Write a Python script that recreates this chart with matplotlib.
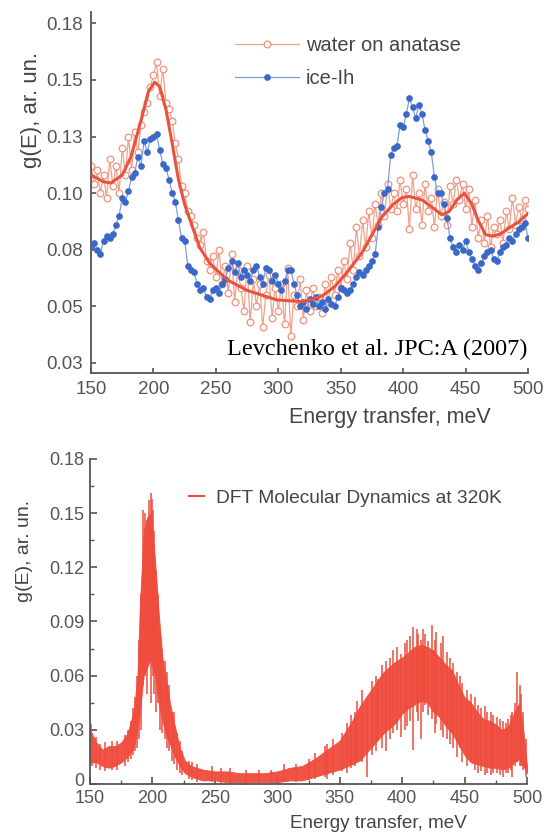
import numpy as np
import matplotlib
matplotlib.use('Agg')
import matplotlib.pyplot as plt
import matplotlib.transforms as mtransforms

plt.rcParams['font.family'] = ['Liberation Sans', 'DejaVu Sans']

# ---------------- datos panel superior (Levchenko et al.) ----------------
e_exp = np.arange(150, 500.1, 2.5)

g_anatase = [
    0.112, 0.104, 0.110, 0.100, 0.108, 0.098, 0.115, 0.103, 0.112, 0.100,
    0.120, 0.108, 0.125, 0.110, 0.127, 0.118, 0.130, 0.136, 0.140, 0.147,
    0.152, 0.158, 0.143, 0.155, 0.140, 0.137, 0.132, 0.122, 0.115, 0.103,
    0.100, 0.092, 0.090, 0.086, 0.080, 0.077, 0.083, 0.070, 0.066, 0.072,
    0.063, 0.075, 0.060, 0.068, 0.056, 0.073, 0.052, 0.066, 0.058, 0.048,
    0.068, 0.043, 0.062, 0.050, 0.060, 0.041, 0.055, 0.064, 0.045, 0.058,
    0.048, 0.060, 0.042, 0.067, 0.037, 0.055, 0.050, 0.062, 0.044, 0.057,
    0.048, 0.058, 0.050, 0.054, 0.047, 0.060, 0.052, 0.063, 0.055, 0.066,
    0.058, 0.070, 0.062, 0.078, 0.066, 0.085, 0.072, 0.088, 0.076, 0.092,
    0.080, 0.095, 0.086, 0.100, 0.090, 0.104, 0.093, 0.100, 0.092, 0.106,
    0.095, 0.102, 0.084, 0.108, 0.093, 0.100, 0.086, 0.104, 0.092, 0.098,
    0.085, 0.102, 0.090, 0.096, 0.086, 0.103, 0.095, 0.106, 0.097, 0.104,
    0.093, 0.102, 0.085, 0.097, 0.080, 0.088, 0.078, 0.090, 0.076, 0.085,
    0.082, 0.088, 0.078, 0.092, 0.084, 0.098, 0.086, 0.094, 0.088, 0.097,
    0.093,
]

g_ice = [
    0.076, 0.078, 0.075, 0.073, 0.079, 0.081, 0.080, 0.082, 0.086, 0.090,
    0.098, 0.096, 0.101, 0.107, 0.109, 0.116, 0.112, 0.123, 0.118, 0.124,
    0.125, 0.126, 0.119, 0.113, 0.111, 0.106, 0.100, 0.096, 0.088, 0.080,
    0.079, 0.068, 0.066, 0.065, 0.060, 0.057, 0.058, 0.054, 0.053, 0.057,
    0.058, 0.056, 0.060, 0.062, 0.067, 0.070, 0.065, 0.069, 0.063, 0.066,
    0.064, 0.061, 0.066, 0.068, 0.063, 0.060, 0.067, 0.066, 0.061, 0.064,
    0.060, 0.057, 0.061, 0.066, 0.066, 0.060, 0.055, 0.050, 0.052, 0.049,
    0.053, 0.051, 0.054, 0.050, 0.052, 0.049, 0.053, 0.051, 0.050, 0.054,
    0.058, 0.057, 0.056, 0.057, 0.060, 0.063, 0.065, 0.064, 0.066, 0.068,
    0.070, 0.073, 0.085, 0.094, 0.100, 0.102, 0.117, 0.120, 0.121, 0.130,
    0.129, 0.135, 0.142, 0.138, 0.133, 0.139, 0.135, 0.128, 0.123, 0.118,
    0.107, 0.100, 0.100, 0.095, 0.089, 0.080, 0.076, 0.074, 0.077, 0.075,
    0.079, 0.074, 0.071, 0.068, 0.066, 0.069, 0.072, 0.074, 0.075, 0.071,
    0.070, 0.074, 0.076, 0.077, 0.080, 0.079, 0.082, 0.084, 0.085, 0.087,
    0.080,
]

# curva suavizada (ajuste) sobre los datos de anatasa
e_fit = [150, 160, 166, 175, 182, 190, 196, 201, 205, 210, 215, 220, 225, 230,
         237, 245, 259, 275, 299, 320, 335, 345, 355, 367, 383, 392, 399, 405,
         415, 425, 431, 437, 443, 449, 455, 460, 466, 472, 478, 485, 492, 500]
g_fit = [0.108, 0.105, 0.1045, 0.108, 0.116, 0.132, 0.145, 0.149, 0.147, 0.137,
         0.122, 0.106, 0.095, 0.087, 0.076, 0.069, 0.0617, 0.057, 0.0528, 0.052,
         0.0545, 0.0586, 0.065, 0.0736, 0.0895, 0.095, 0.098, 0.0985, 0.097,
         0.093, 0.0904, 0.092, 0.097, 0.100, 0.095, 0.088, 0.0816, 0.081, 0.082,
         0.0847, 0.087, 0.091]

# ---------------- datos panel inferior (DFT MD 320K) ----------------
e_md = [150, 155, 160, 165, 170, 175, 180, 185, 188, 190, 193, 196, 199, 202,
        205, 208, 211, 214, 218, 222, 226, 231, 240, 250, 260, 270, 280, 290,
        300, 310, 320, 330, 340, 350, 360, 366, 375, 385, 395, 400, 405, 410,
        415, 420, 425, 430, 435, 440, 445, 450, 455, 460, 465, 470, 475, 480,
        485, 490, 494, 497, 500]
g_md_low = [0.012, 0.012, 0.010, 0.009, 0.010, 0.012, 0.015, 0.020, 0.030, 0.040,
            0.060, 0.065, 0.070, 0.060, 0.045, 0.035, 0.027, 0.022, 0.015, 0.010,
            0.006, 0.004, 0.002, 0.002, 0.001, 0.001, 0.001, 0.001, 0.001, 0.002,
            0.002, 0.004, 0.006, 0.008, 0.011, 0.013, 0.020, 0.028, 0.034, 0.039,
            0.042, 0.044, 0.046, 0.045, 0.040, 0.037, 0.032, 0.028, 0.022, 0.016,
            0.012, 0.011, 0.010, 0.009, 0.009, 0.008, 0.009, 0.012, 0.014, 0.010,
            0.006]
g_md_high = [0.030, 0.023, 0.019, 0.021, 0.021, 0.023, 0.028, 0.040, 0.060, 0.100,
             0.140, 0.148, 0.150, 0.125, 0.095, 0.070, 0.058, 0.045, 0.032, 0.020,
             0.013, 0.010, 0.008, 0.007, 0.007, 0.006, 0.006, 0.006, 0.007, 0.009,
             0.010, 0.014, 0.019, 0.024, 0.035, 0.043, 0.052, 0.062, 0.068, 0.070,
             0.073, 0.076, 0.077, 0.076, 0.074, 0.070, 0.066, 0.063, 0.055, 0.048,
             0.045, 0.040, 0.036, 0.035, 0.033, 0.030, 0.032, 0.040, 0.045, 0.030,
             0.010]

# picos sueltos fuera de la banda
spike_e = [150.5, 152, 158, 168, 178, 183, 186, 189, 191, 192.5, 194, 195.5, 197,
           198.5, 199.5, 200.5, 201.5, 203, 204.5, 206, 210, 213, 216, 220, 224,
           229, 236, 248, 262, 285, 305, 325, 338, 352, 362, 368, 372, 379, 384,
           390, 396, 402, 406, 409, 412, 415, 418, 421, 424, 427, 431, 436, 441,
           444, 448, 452, 458, 463, 468, 473, 478, 483, 487, 490, 492, 494.5, 497,
           499,
           340, 345, 356, 359, 364, 376, 381, 387, 393, 399, 404, 413, 416.5, 426,
           433, 438, 446, 455, 461, 466, 471, 476, 481, 485, 488, 495.5, 155, 162,
           172, 180.5, 184.5, 187.5, 207.5, 211.5, 217.5, 222, 232, 255, 275, 295,
           315, 330]
spike_lo = [0.012, 0.010, 0.008, 0.008, 0.010, 0.014, 0.018, 0.025, 0.030, 0.055,
            0.060, 0.050, 0.067, 0.045, 0.065, 0.060, 0.050, 0.040, 0.045, 0.030,
            0.025, 0.018, 0.013, 0.008, 0.005, 0.003, 0.001, 0.001, 0.000, 0.000,
            0.001, 0.002, 0.004, 0.007, 0.010, 0.012, 0.004, 0.018, 0.020, 0.025,
            0.030, 0.030, 0.035, 0.019, 0.040, 0.025, 0.044, 0.038, 0.036, 0.033,
            0.030, 0.025, 0.020, 0.015, 0.012, 0.010, 0.008, 0.007, 0.006, 0.006,
            0.005, 0.006, 0.008, 0.010, 0.012, 0.010, 0.008, 0.004,
            0.003, 0.005, 0.006, 0.009, 0.012, 0.016, 0.024, 0.018, 0.028, 0.026,
            0.032, 0.035, 0.040, 0.028, 0.026, 0.022, 0.020, 0.012, 0.006, 0.005,
            0.005, 0.006, 0.004, 0.006, 0.004, 0.010, 0.009, 0.007, 0.008, 0.012,
            0.016, 0.020, 0.028, 0.020, 0.011, 0.006, 0.002, 0.000, 0.000, 0.000,
            0.001, 0.003]
spike_hi = [0.033, 0.028, 0.022, 0.024, 0.027, 0.035, 0.048, 0.080, 0.105, 0.152,
            0.150, 0.146, 0.157, 0.161, 0.158, 0.152, 0.140, 0.118, 0.105, 0.085,
            0.068, 0.055, 0.040, 0.028, 0.018, 0.013, 0.011, 0.010, 0.009, 0.008,
            0.011, 0.014, 0.021, 0.028, 0.040, 0.052, 0.048, 0.060, 0.066, 0.070,
            0.076, 0.078, 0.082, 0.087, 0.086, 0.080, 0.083, 0.079, 0.088, 0.084,
            0.078, 0.073, 0.067, 0.062, 0.056, 0.052, 0.048, 0.042, 0.040, 0.038,
            0.036, 0.034, 0.038, 0.045, 0.062, 0.055, 0.040, 0.025,
            0.022, 0.025, 0.034, 0.038, 0.046, 0.057, 0.058, 0.068, 0.074, 0.072,
            0.080, 0.083, 0.086, 0.080, 0.082, 0.070, 0.060, 0.050, 0.044, 0.043,
            0.040, 0.037, 0.035, 0.036, 0.040, 0.050, 0.026, 0.023, 0.024, 0.030,
            0.042, 0.060, 0.075, 0.062, 0.040, 0.024, 0.012, 0.009, 0.008, 0.008,
            0.011, 0.017]

# ---------------- figura ----------------
gris = '#555555'
fig = plt.figure(figsize=(5.47, 8.36), dpi=100)

# panel superior
ax1 = fig.add_axes([0.1664, 0.5538, 0.799, 0.4318])
ax1.plot(e_exp, g_anatase, '-o', color='#f3a08c', lw=0.9, ms=4.8,
         mfc='white', mec='#f0927c', mew=0.9, label='water on anatase', zorder=2)
ax1.plot(e_exp, g_ice, '-o', color='#7f9ddf', lw=0.9, ms=3.8,
         mfc='#3a68c8', mec='#3a68c8', label='ice-Ih', zorder=3)
ax1.plot(e_fit, g_fit, '-', color='#e8533f', lw=2.2, zorder=4)

ax1.set_xlim(150, 500)
ax1.set_ylim(0.0205, 0.180)
ax1.set_xticks(range(150, 501, 50))
ax1.set_yticks([0.025, 0.05, 0.075, 0.10, 0.125, 0.15, 0.175])
ax1.set_yticklabels(['0.03', '0.05', '0.08', '0.10', '0.13', '0.15', '0.18'])

leg1 = ax1.legend(loc='upper left', bbox_to_anchor=(0.31, 0.955), frameon=False,
                  fontsize=14.5, handlelength=3.2, handletextpad=0.35,
                  labelspacing=0.7, numpoints=1, borderaxespad=0)
for t in leg1.get_texts():
    t.set_color('#444444')

ax1.text(0.999, 0.065, 'Levchenko et al. JPC:A (2007)', transform=ax1.transAxes,
         ha='right', va='center', fontsize=17.5, family='Liberation Serif',
         color='black')

# panel inferior
ax2 = fig.add_axes([0.1645, 0.0622, 0.799, 0.3888])
ax2.fill_between(e_md, g_md_low, g_md_high, color='#ef4b3c', lw=0.6,
                 alpha=0.95, zorder=2)
ax2.vlines(spike_e, spike_lo, spike_hi, color='#ef4b3c', lw=1.1, zorder=2)
ax2.plot([], [], color='#ef4b3c', lw=1.5, label='DFT Molecular Dynamics at 320K')

ax2.set_xlim(150, 500)
ax2.set_ylim(0, 0.18)
ax2.set_xticks(range(150, 501, 50))
ax2.set_xticks(range(175, 500, 50), minor=True)
ax2.set_yticks([0, 0.03, 0.06, 0.09, 0.12, 0.15, 0.18])
ax2.set_yticklabels(['0', '0.03', '0.06', '0.09', '0.12', '0.15', '0.18'])
ax2.set_yticks([0.015, 0.045, 0.075, 0.105, 0.135, 0.165], minor=True)

leg2 = ax2.legend(loc='upper left', bbox_to_anchor=(0.209, 0.93), frameon=False,
                  fontsize=13.8, handlelength=0.8, handletextpad=0.6,
                  borderaxespad=0)
for t in leg2.get_texts():
    t.set_color('#444444')

for ax, fs, tl, pd in [(ax1, 13.5, 3.5, 6), (ax2, 13, 5, 4)]:
    for s in ['top', 'right']:
        ax.spines[s].set_visible(False)
    for s in ['left', 'bottom']:
        ax.spines[s].set_color(gris)
        ax.spines[s].set_linewidth(1.3)
    ax.tick_params(which='major', direction='in', length=tl, width=1.2,
                   color=gris, labelcolor=gris, labelsize=fs, pad=pd)
    ax.tick_params(which='minor', direction='in', length=3, width=1.0, color=gris)

# subir un poco el "0" para que no pise al "150"
lbl0 = ax2.get_yticklabels()[0]
lbl0.set_transform(lbl0.get_transform() +
                   mtransforms.ScaledTranslation(0, 3 / 72, fig.dpi_scale_trans))

# etiquetas de ejes
fig.text(0.713, 0.500, 'Energy transfer, meV', ha='center', va='center',
         fontsize=15.5, color='#444444')
fig.text(0.057, 0.868, 'g(E), ar. un.', ha='center', va='center',
         rotation=90, fontsize=16, color='#444444')
fig.text(0.691, 0.0144, 'Energy transfer, meV', ha='center', va='center',
         fontsize=13.6, color='#444444')
fig.text(0.044, 0.341, 'g(E), ar. un.', ha='center', va='center',
         rotation=90, fontsize=14, color='#444444')

plt.savefig('out.png', dpi=100)
